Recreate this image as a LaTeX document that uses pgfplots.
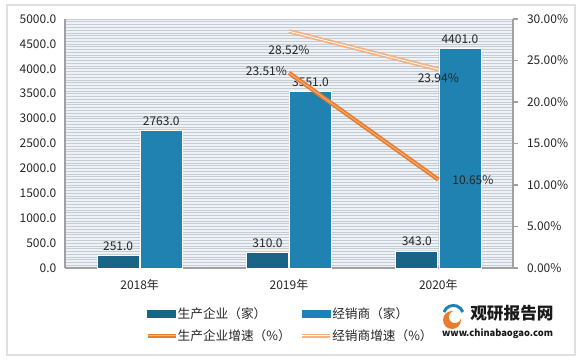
\documentclass[border=0pt]{standalone}
\usepackage{fontspec}
\setmainfont{Noto Sans CJK SC}
\usepackage{pgfplots}
\pgfplotsset{compat=1.18}
\definecolor{darkbar}{HTML}{1A6486}
\definecolor{lightbar}{HTML}{1F82B0}
\definecolor{ordark}{HTML}{E97D2E}
\definecolor{orlight}{HTML}{F4B183}
\definecolor{gridc}{HTML}{C4CCD4}
\definecolor{bgc}{HTML}{EEF2F6}
\definecolor{axc}{HTML}{A0A0A0}
\begin{document}
\begin{tikzpicture}[x=0.75pt,y=0.75pt]
\fill[white] (0,0) rectangle (583,364);
\draw[black!12, line width=2.2pt] (7,9) rectangle (575,359);
\begin{axis}[
  at={(48.75pt,72pt)}, anchor=south west, scale only axis,
  width=336pt, height=186.75pt,
  xmin=-0.5, xmax=2.5, ymin=0, ymax=5000,
  ytick={0,500,...,5000},
  minor y tick num=8,
  xtick={0,1,2}, xticklabels={2018年,2019年,2020年},
  axis x line*=bottom, axis y line*=left,
  axis line style={axc, line width=0.8pt},
  x axis line style={-}, y axis line style={-},
  major tick length=0pt, minor tick length=0pt,
  ymajorgrids, yminorgrids,
  major grid style={gridc, line width=0.5pt},
  minor grid style={gridc, line width=0.5pt},
  axis background/.style={fill=bgc},
  tick label style={font=\fontsize{9}{10}\selectfont, text=black!85},
  /pgf/number format/assume math mode=true,
  yticklabel style={xshift=-3pt, /pgf/number format/.cd, fixed, fixed zerofill, precision=1, 1000 sep={}},
  xticklabel style={yshift=-5pt},
  ybar=0.8pt, bar width=31.5pt,
  nodes near coords,
  nodes near coords style={font=\fontsize{9}{10}\selectfont, text=black!85,
     /pgf/number format/.cd, fixed, fixed zerofill, precision=1, 1000 sep={}, assume math mode=true},
  clip=false,
]
\addplot[fill=darkbar, draw=white, line width=0.5pt] coordinates {(0,251) (1,310) (2,343)};
\addplot[fill=lightbar, draw=white, line width=0.5pt] coordinates {(0,2763) (1,3551) (2,4401)};
\end{axis}
\begin{axis}[
  at={(48.75pt,72pt)}, anchor=south west, scale only axis,
  width=336pt, height=186.75pt,
  xmin=-0.5, xmax=2.5, ymin=0, ymax=30,
  ytick={0,5,...,30},
  axis x line=none, axis y line*=right,
  axis line style={axc, line width=0.8pt}, y axis line style={-},
  tick style={axc, line width=0.8pt},
  tick align=outside, major tick length=4pt,
  tick label style={font=\fontsize{9}{10}\selectfont, text=black!85},
  yticklabel style={xshift=3pt},
  /pgf/number format/assume math mode=true,
  yticklabel={\pgfmathprintnumber[fixed,fixed zerofill,precision=2,assume math mode=true]{\tick}\%},
  clip=false,
  legend cell align=left,
  legend style={at={(0.17,-0.135)}, anchor=north west, draw=none, fill=white,
     font=\fontsize{9.5}{11}\selectfont, text=black!85,
     /tikz/every odd column/.append style={column sep=-2pt},
     /tikz/every even column/.append style={column sep=5pt},
     row sep=3pt},
  legend columns=2,
]
\addlegendimage{legend image code/.code={\fill[darkbar] (0pt,-2.6pt) rectangle (21pt,2.6pt);}}
\addlegendentry{生产企业（家）}
\addlegendimage{legend image code/.code={\fill[lightbar] (0pt,-2.6pt) rectangle (21pt,2.6pt);}}
\addlegendentry{经销商（家）}
\addlegendimage{legend image code/.code={\draw[ordark, double=orlight, double distance=0.6pt, line width=1.3pt] (0pt,0pt) -- (21pt,0pt);}}
\addlegendentry{生产企业增速（\%）}
\addlegendimage{legend image code/.code={\draw[orlight, double=white, double distance=0.6pt, line width=1.3pt] (0pt,0pt) -- (21pt,0pt);}}
\addlegendentry{经销商增速（\%）}
\addplot[forget plot, ordark, double=orlight, double distance=0.6pt, line width=1.3pt] coordinates {(1,23.51) (2,10.65)};
\addplot[forget plot, orlight, double=white, double distance=0.6pt, line width=1.3pt] coordinates {(1,28.52) (2,23.94)};
\node[font=\fontsize{9}{10}\selectfont, text=black!85, anchor=east, xshift=2pt, yshift=1.5pt] at (axis cs:1,23.51) {23.51\%};
\node[font=\fontsize{9}{10}\selectfont, text=black!85, yshift=-14pt] at (axis cs:1,28.52) {28.52\%};
\node[font=\fontsize{9}{10}\selectfont, text=black!85, yshift=-6.5pt] at (axis cs:2,23.94) {23.94\%};
\node[font=\fontsize{9}{10}\selectfont, text=black!85, anchor=west, xshift=7pt] at (axis cs:2,10.65) {10.65\%};
\end{axis}
% logo
\fill[ordark] (452,44) circle (9);
\fill[white] (455,47) circle (6);
\draw[lightbar, line width=2.2pt] (444,52) arc (160:20:10);
\node[anchor=west, font=\bfseries\fontsize{12.5}{13}\selectfont, text=black!90, inner sep=0] at (470,51) {观研报告网};
\node[anchor=center, font=\bfseries\fontsize{7}{8}\selectfont, text=black!90, inner sep=0] at (497.5,30) {www.chinabaogao.com};
\end{tikzpicture}
\end{document}
